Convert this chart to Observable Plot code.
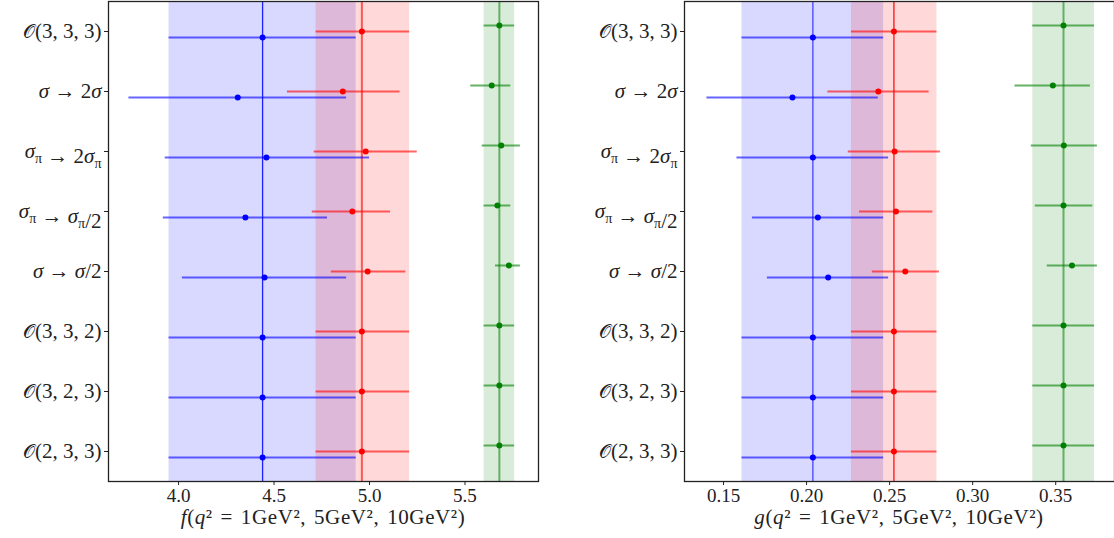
<!DOCTYPE html>
<html>
<head>
<meta charset="utf-8">
<script src="https://cdn.jsdelivr.net/npm/d3@7"></script>
<script src="https://cdn.jsdelivr.net/npm/@observablehq/plot@0.6"></script>
<style>
  html, body { margin: 0; padding: 0; background: #fff; }
  #wrap { position: relative; width: 1114px; height: 538px; overflow: hidden; font-family: "Liberation Serif", "DejaVu Serif", serif; }
  .panel { position: absolute; top: 0; }
  .xlabel { position: absolute; top: 505px; font-size: 21px; letter-spacing: 0.6px; word-spacing: 2px; text-align: center; color: #222; white-space: nowrap; line-height: 24px; }
</style>
</head>
<body>
<div id="wrap"></div>
<script>
// Row labels, top to bottom
const rowKeys = ["O333", "s2s", "sp2sp", "spsp2", "ss2", "O332", "O323", "O233"];

// f panel (left)
const fBlue   = [4.44, 4.31, 4.46, 4.35, 4.45, 4.44, 4.44, 4.44];
const fBlueLo = [3.95, 3.74, 3.93, 3.92, 4.02, 3.95, 3.95, 3.95];
const fBlueHi = [4.93, 4.88, 5.00, 4.78, 4.88, 4.93, 4.93, 4.93];
const fRed    = [4.96, 4.86, 4.98, 4.91, 4.99, 4.96, 4.96, 4.96];
const fRedLo  = [4.72, 4.57, 4.71, 4.70, 4.80, 4.72, 4.72, 4.72];
const fRedHi  = [5.21, 5.16, 5.25, 5.11, 5.19, 5.21, 5.21, 5.21];
const fGreen  = [5.68, 5.64, 5.69, 5.67, 5.73, 5.68, 5.68, 5.68];
const fGreenLo= [5.60, 5.53, 5.59, 5.60, 5.66, 5.60, 5.60, 5.60];
const fGreenHi= [5.76, 5.74, 5.79, 5.74, 5.79, 5.76, 5.76, 5.76];
const fTicks  = [4.0, 4.5, 5.0, 5.5];

// g panel (right)
const gBlue   = [0.2038, 0.1915, 0.2038, 0.2068, 0.2130, 0.2038, 0.2038, 0.2038];
const gBlueLo = [0.1611, 0.1400, 0.1581, 0.1674, 0.1764, 0.1611, 0.1611, 0.1611];
const gBlueHi = [0.2464, 0.2432, 0.2494, 0.2464, 0.2494, 0.2464, 0.2464, 0.2464];
const gRed    = [0.2526, 0.2432, 0.2530, 0.2538, 0.2594, 0.2526, 0.2526, 0.2526];
const gRedLo  = [0.2270, 0.2128, 0.2251, 0.2319, 0.2396, 0.2270, 0.2270, 0.2270];
const gRedHi  = [0.2785, 0.2738, 0.2806, 0.2760, 0.2800, 0.2785, 0.2785, 0.2785];
const gGreen  = [0.3547, 0.3483, 0.3549, 0.3547, 0.3598, 0.3547, 0.3547, 0.3547];
const gGreenLo= [0.3362, 0.3255, 0.3353, 0.3377, 0.3449, 0.3362, 0.3362, 0.3362];
const gGreenHi= [0.3734, 0.3709, 0.3751, 0.3723, 0.3751, 0.3734, 0.3734, 0.3734];
const gTicks  = [0.15, 0.20, 0.25, 0.30, 0.35];

const SUB = (s) => `<tspan dy="5" font-size="14">${s}</tspan><tspan dy="-5"></tspan>`;
const IT = (s) => `<tspan font-style="italic">${s}</tspan>`;
const CALO = `<tspan font-family="DejaVu Serif" font-size="19">𝒪</tspan>`;
const richLabel = {
  O333: `${CALO}(3, 3, 3)`,
  s2s: `${IT("σ")} → 2${IT("σ")}`,
  sp2sp: `${IT("σ")}${SUB("π")} → 2${IT("σ")}${SUB("π")}`,
  spsp2: `${IT("σ")}${SUB("π")} → ${IT("σ")}${SUB("π")}/2`,
  ss2: `${IT("σ")} → ${IT("σ")}/2`,
  O332: `${CALO}(3, 3, 2)`,
  O323: `${CALO}(3, 2, 3)`,
  O233: `${CALO}(2, 3, 3)`
};

function rowsOf(val, lo, hi, off) {
  return val.map((v, i) => ({ y: (rowKeys.length - 1 - i) + off, v, lo: lo[i], hi: hi[i] }));
}

function panel(opts) {
  const { blue, blueLo, blueHi, red, redLo, redHi, green, greenLo, greenHi, domain, ticks, fmt,
          width, marginLeft, marginRight, lines } = opts;
  const B = rowsOf(blue, blueLo, blueHi, -0.1);
  const R = rowsOf(red, redLo, redHi, 0);
  const G = rowsOf(green, greenLo, greenHi, 0.1);
  const bands = [
    { x1: blueLo[0], x2: blueHi[0], c: "rgba(0,0,255,0.15)" },
    { x1: redLo[0], x2: redHi[0], c: "rgba(255,0,0,0.15)" },
    { x1: greenLo[0], x2: greenHi[0], c: "rgba(0,128,0,0.15)" }
  ];
  const yTicks = d3.range(rowKeys.length);
  const svg = Plot.plot({
    width, height: 538,
    marginLeft, marginRight, marginTop: 1, marginBottom: 57,
    style: { fontFamily: "Liberation Serif, DejaVu Serif, serif", background: "transparent", color: "#222" },
    x: { domain, ticks, label: null },
    y: { domain: [-0.5, rowKeys.length - 0.5], label: null },
    marks: [
      ...bands.map(b => Plot.rect([b], { x1: "x1", x2: "x2", y1: -0.5, y2: rowKeys.length - 0.5, fill: b.c })),
      Plot.ruleX([blue[0]], { stroke: "blue", strokeOpacity: lines.bo, strokeWidth: lines.bw }),
      Plot.ruleX([red[0]], { stroke: "red", strokeOpacity: lines.ro, strokeWidth: lines.rw }),
      Plot.ruleX([green[0]], { stroke: "green", strokeOpacity: 0.55, strokeWidth: 2 }),
      Plot.ruleY(B, { y: "y", x1: "lo", x2: "hi", stroke: "blue", strokeOpacity: 0.6, strokeWidth: 2 }),
      Plot.ruleY(R, { y: "y", x1: "lo", x2: "hi", stroke: "red", strokeOpacity: 0.6, strokeWidth: 2 }),
      Plot.ruleY(G, { y: "y", x1: "lo", x2: "hi", stroke: "green", strokeOpacity: 0.6, strokeWidth: 2 }),
      Plot.dot(B, { x: "v", y: "y", r: 3, fill: "blue" }),
      Plot.dot(R, { x: "v", y: "y", r: 3, fill: "red" }),
      Plot.dot(G, { x: "v", y: "y", r: 3, fill: "green" }),
      Plot.frame({ stroke: "#222", strokeWidth: 1.3 }),
      Plot.axisX({ ticks, tickFormat: fmt, tickSize: 4, tickPadding: 3, fontSize: 19, label: null, stroke: "#222" }),
      Plot.axisY({ ticks: yTicks, tickFormat: (i) => rowKeys[rowKeys.length - 1 - i], tickSize: 4, tickPadding: 3, fontSize: 21, label: null })
    ]
  });
  svg.querySelectorAll('g[aria-label="y-axis tick label"] text').forEach(t => {
    const key = t.textContent.trim();
    if (richLabel[key]) t.innerHTML = richLabel[key];
  });
  return svg;
}

const wrap = document.getElementById("wrap");

const left = panel({
  blue: fBlue, blueLo: fBlueLo, blueHi: fBlueHi,
  red: fRed, redLo: fRedLo, redHi: fRedHi,
  green: fGreen, greenLo: fGreenLo, greenHi: fGreenHi,
  domain: [3.633, 5.885], ticks: fTicks, fmt: d3.format(".1f"),
  width: 560, marginLeft: 108, marginRight: 22,
  lines: { bo: 0.85, bw: 1.3, ro: 0.6, rw: 2 }
});
left.classList.add("panel");
left.style.left = "0px";
wrap.appendChild(left);

const right = panel({
  blue: gBlue, blueLo: gBlueLo, blueHi: gBlueHi,
  red: gRed, redLo: gRedLo, redHi: gRedHi,
  green: gGreen, greenLo: gGreenLo, greenHi: gGreenHi,
  domain: [0.1265, 0.3854], ticks: gTicks, fmt: d3.format(".2f"),
  width: 556, marginLeft: 124, marginRight: 2,
  lines: { bo: 0.75, bw: 1.2, ro: 1, rw: 1.2 }
});
right.classList.add("panel");
right.style.left = "560px";
wrap.appendChild(right);

function addLabel(letter, left, width) {
  const d = document.createElement("div");
  d.className = "xlabel";
  d.style.left = left + "px";
  d.style.width = width + "px";
  d.innerHTML = `<i>${letter}</i>(<i>q</i>² = 1GeV², 5GeV², 10GeV²)`;
  wrap.appendChild(d);
}
addLabel("f", 108, 430);
addLabel("g", 684, 430);
</script>
</body>
</html>
